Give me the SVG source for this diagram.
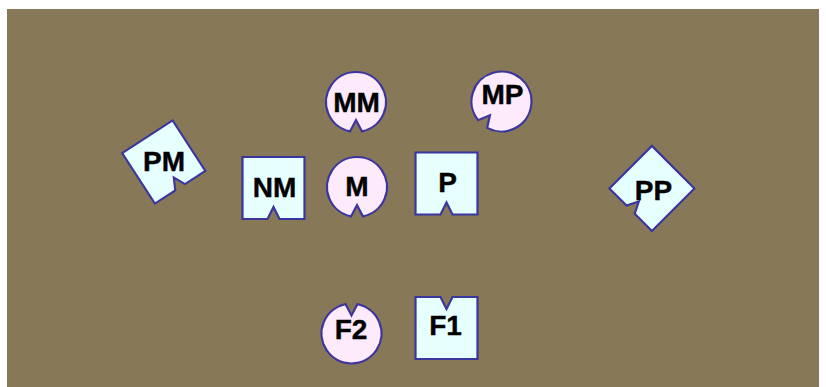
<svg xmlns="http://www.w3.org/2000/svg" xmlns:xlink="http://www.w3.org/1999/xlink" width="826" height="387" viewBox="0 0 826 387">
<style>
.sq{fill:#E6FFFF;stroke:#3B35A0;stroke-width:2.2;stroke-linejoin:miter}
.ci{fill:#FDEAFB;stroke:#3B35A0;stroke-width:2.2}
.lb{font-family:"Liberation Sans",Arial,sans-serif;font-weight:bold;font-size:28px;fill:#000;text-anchor:middle;stroke:#000;stroke-width:0.4}
</style>
<defs>
<path id="sqn" d="M-31,-31 H31 V31 H6 L0,19 L-6,31 H-31 Z"/>
<path id="cin" d="M-6,29.4 A30,30 0 1 1 6,29.4 L0,18 Z"/>
</defs>
<rect x="0" y="0" width="826" height="387" fill="#ffffff"/>
<rect x="7" y="9" width="812" height="378" fill="#877857"/>
<g id="connectors"></g>
<g id="node-MM"><use xlink:href="#cin" class="ci" transform="translate(356,102)"/><text class="lb" x="356.5" y="112">MM</text></g>
<g id="node-MP"><use xlink:href="#cin" class="ci" transform="translate(501.5,101.5) rotate(40)"/><text class="lb" x="502.5" y="104">MP</text></g>
<g id="node-PM"><use xlink:href="#sqn" class="sq" transform="translate(163.75,162) rotate(-33) scale(0.97)"/><text class="lb" x="164" y="171">PM</text></g>
<g id="node-NM"><use xlink:href="#sqn" class="sq" transform="translate(273.5,188)"/><text class="lb" x="274.5" y="197">NM</text></g>
<g id="node-M"><use xlink:href="#cin" class="ci" transform="translate(357,187)"/><text class="lb" x="357" y="196">M</text></g>
<g id="node-P"><use xlink:href="#sqn" class="sq" transform="translate(446.5,183.5)"/><text class="lb" x="447.5" y="192">P</text></g>
<g id="node-PP"><use xlink:href="#sqn" class="sq" transform="translate(651.9,188.4) rotate(45) scale(0.97)"/><text class="lb" x="653.5" y="200">PP</text></g>
<g id="node-F2"><use xlink:href="#cin" class="ci" transform="translate(351.5,333.5) rotate(180)"/><text class="lb" x="351" y="339">F2</text></g>
<g id="node-F1"><use xlink:href="#sqn" class="sq" transform="translate(446.5,328) rotate(180)"/><text class="lb" x="445.5" y="335">F1</text></g>
</svg>
